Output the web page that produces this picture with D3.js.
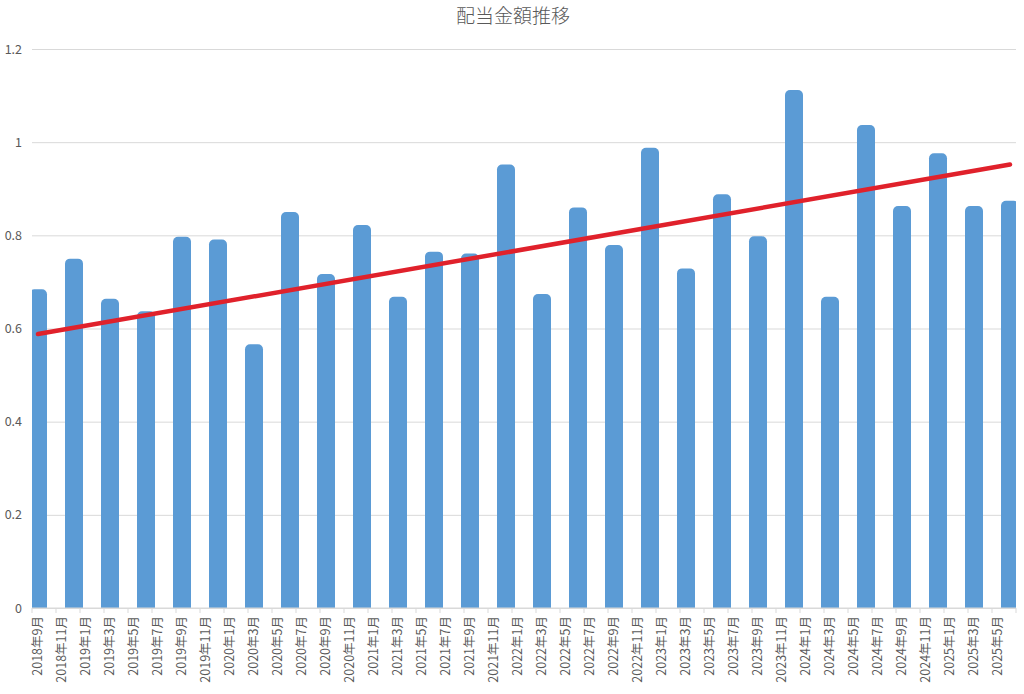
<!DOCTYPE html>
<meta charset="utf-8">
<script src="https://d3js.org/d3.v7.min.js"></script>
<style>
  body { margin: 0; background: #fff; }
  text { font-family: "Noto Sans CJK JP", "Noto Sans", sans-serif; }
</style>
<div id="my_dataviz"></div>

<script>
// data
var payMonths = ["2018-09","2018-12","2019-03","2019-06","2019-09","2019-12","2020-03","2020-06",
                 "2020-09","2020-12","2021-03","2021-06","2021-09","2021-12","2022-03","2022-06",
                 "2022-09","2022-12","2023-03","2023-06","2023-09","2023-12","2024-03","2024-06",
                 "2024-09","2024-12","2025-03","2025-06"];
var amounts = [0.684, 0.750, 0.664, 0.637, 0.797, 0.791, 0.566, 0.850,
               0.717, 0.822, 0.668, 0.765, 0.761, 0.952, 0.674, 0.860,
               0.779, 0.988, 0.729, 0.888, 0.798, 1.112, 0.668, 1.037,
               0.863, 0.976, 0.863, 0.874];
// trend line (start / end)
var trendMonths = ["2018-09", "2025-06"];
var trendValues = [0.588, 0.952];

var tickLabels = ["2018年9月","2018年11月","2019年1月","2019年3月","2019年5月","2019年7月","2019年9月",
  "2019年11月","2020年1月","2020年3月","2020年5月","2020年7月","2020年9月","2020年11月","2021年1月",
  "2021年3月","2021年5月","2021年7月","2021年9月","2021年11月","2022年1月","2022年3月","2022年5月",
  "2022年7月","2022年9月","2022年11月","2023年1月","2023年3月","2023年5月","2023年7月","2023年9月",
  "2023年11月","2024年1月","2024年3月","2024年5月","2024年7月","2024年9月","2024年11月","2025年1月",
  "2025年3月","2025年5月"];
var yTicks = [0, 0.2, 0.4, 0.6, 0.8, 1, 1.2];

var W = 1024, H = 694;
var margin = {top: 49, right: 8, bottom: 86, left: 32},
    width = W - margin.left - margin.right,
    height = H - margin.top - margin.bottom;

var fmt = d3.timeFormat("%Y-%m");
var parse = d3.timeParse("%Y-%m");
// every month on the date axis, one slot each
var allMonths = d3.timeMonth.range(parse("2018-09"), parse("2025-07")).map(fmt);
var keyOf = function(label) {
  var m = label.match(/(\d+)年(\d+)月/);
  return m[1] + "-" + (m[2].length < 2 ? "0" + m[2] : m[2]);
};

var svg = d3.select("#my_dataviz").append("svg")
    .attr("width", W).attr("height", H);

svg.append("defs").append("clipPath").attr("id", "plot")
  .append("rect").attr("width", width).attr("height", height);

var g = svg.append("g")
    .attr("transform", "translate(" + margin.left + "," + margin.top + ")");

var x = d3.scaleBand().domain(allMonths).range([0, width]).padding(0);
var y = d3.scaleLinear().domain([0, 1.2]).range([height, 0]);
var cx = function(k) { return x(k) + x.bandwidth() / 2; };

// gridlines
g.append("g")
  .call(d3.axisLeft(y).tickValues(yTicks).tickSize(-width).tickFormat(function(d) { return d; }))
  .call(function(a) {
    a.select(".domain").remove();
    a.selectAll("line").attr("stroke", "#d9d9d9");
    a.selectAll("text").attr("x", -10).attr("fill", "#595959").style("font-size", "12.5px");
  });

// bars (rounded tops like the original)
var bw = 18, r = 5;
g.append("g").attr("clip-path", "url(#plot)")
  .selectAll("rect").data(amounts).enter().append("rect")
    .attr("x", function(d, i) { return cx(payMonths[i]) - bw / 2; })
    .attr("y", function(d) { return y(d); })
    .attr("width", bw)
    .attr("height", function(d) { return height - y(d) + r + 2; })
    .attr("rx", r)
    .attr("fill", "#5b9bd5");

// axis
var xAxis = g.append("g").attr("transform", "translate(0," + height + ")");
xAxis.append("line").attr("x1", 0).attr("x2", width).attr("stroke", "#d9d9d9");
xAxis.selectAll(".tk").data(tickLabels.concat([null])).enter().append("line")
    .attr("x1", function(d) { return d ? x(keyOf(d)) : width; })
    .attr("x2", function(d) { return d ? x(keyOf(d)) : width; })
    .attr("y1", 0).attr("y2", 5)
    .attr("stroke", "#d9d9d9");
xAxis.selectAll(".lb").data(tickLabels).enter().append("text")
    .attr("transform", function(d) { return "translate(" + cx(keyOf(d)) + ",8)rotate(-90)"; })
    .attr("dy", "0.35em")
    .attr("text-anchor", "end")
    .attr("fill", "#595959")
    .style("font-size", "12.5px")
    .text(function(d) { return d; });

// trend line
g.append("line")
    .attr("x1", cx(trendMonths[0])).attr("y1", y(trendValues[0]))
    .attr("x2", cx(trendMonths[1])).attr("y2", y(trendValues[1]))
    .attr("stroke", "#e0212b").attr("stroke-width", 4.5).attr("stroke-linecap", "round");

// title
svg.append("text")
    .attr("x", 513).attr("y", 23)
    .attr("text-anchor", "middle")
    .attr("fill", "#595959")
    .style("font-size", "19px")
    .style("font-weight", 300)
    .text("配当金額推移");
</script>
